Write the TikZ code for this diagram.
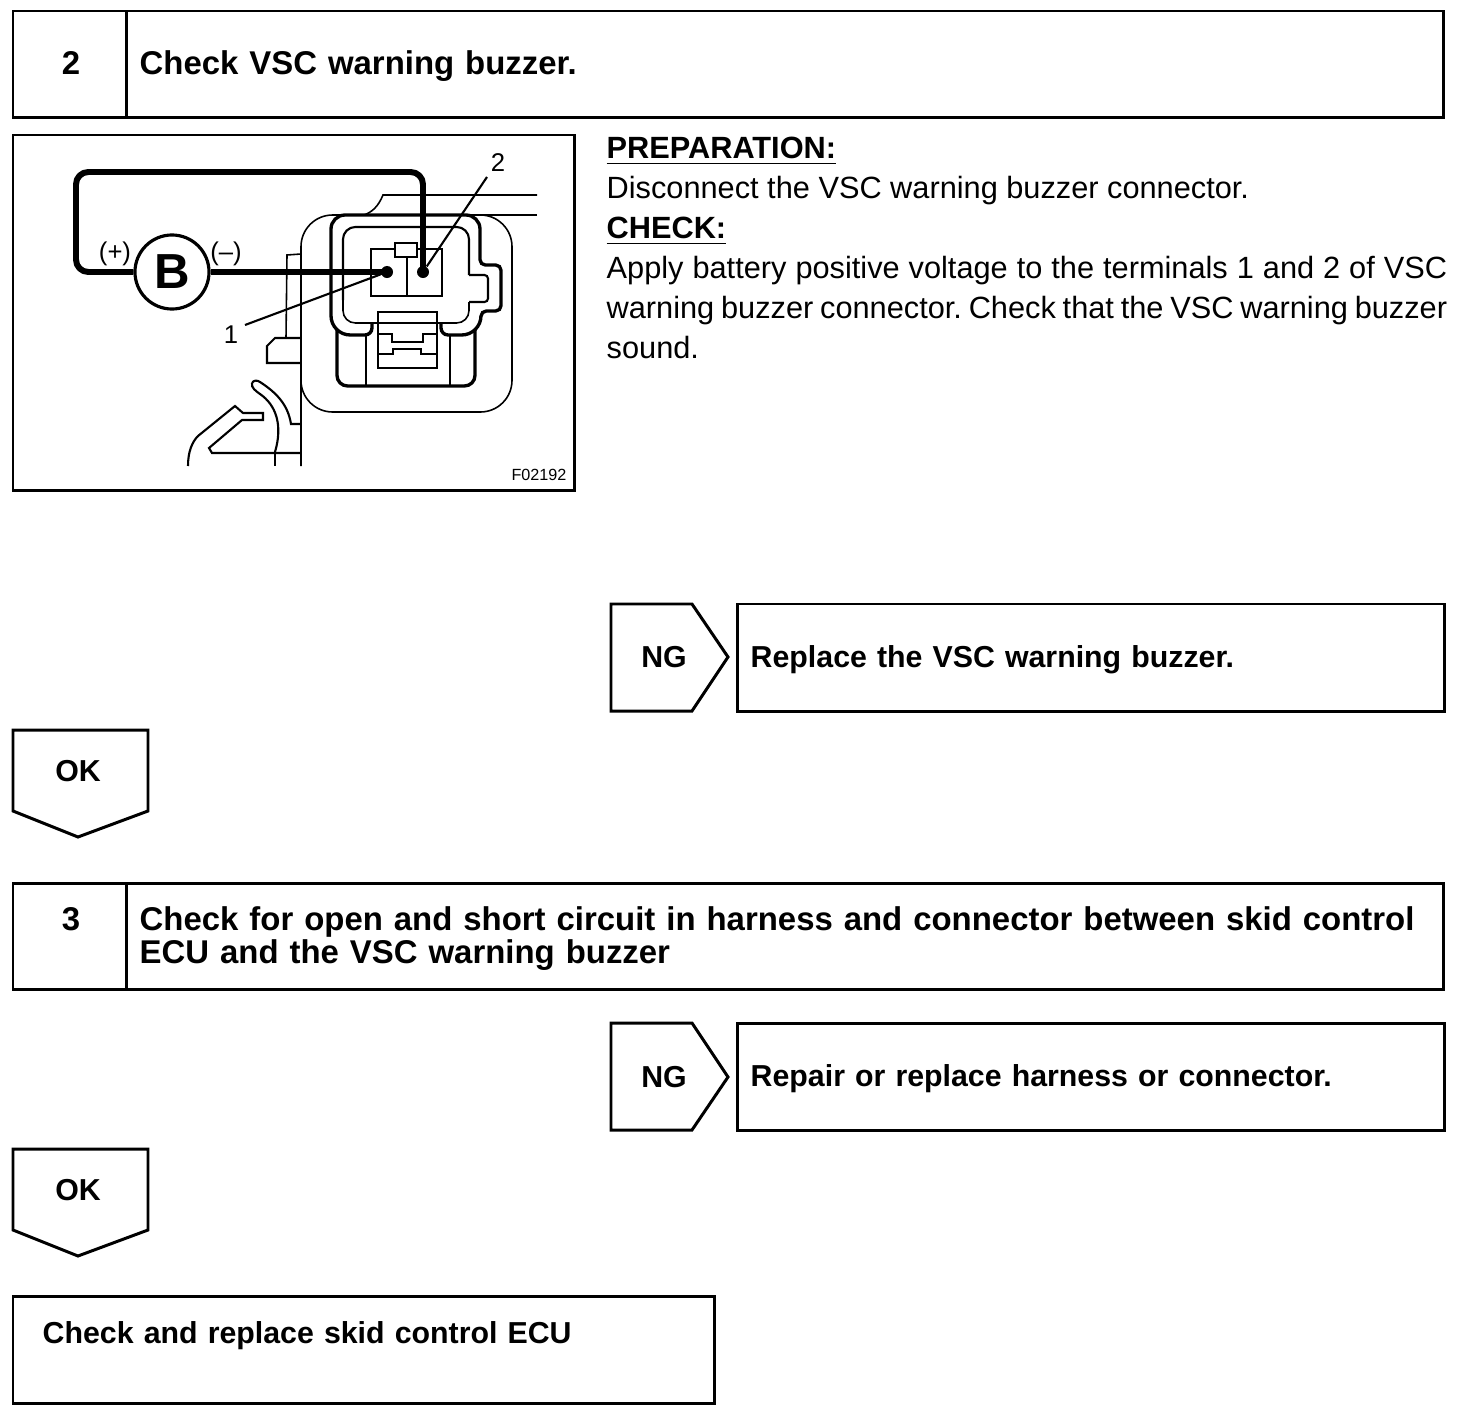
\documentclass[tikz,border=0pt]{standalone}
\usepackage{fontspec}
\setmainfont{Liberation Sans}
\usepackage{xcolor}
\newcommand{\headfont}{\fontsize{9.36}{9.4}\selectfont\bfseries}
\newcommand{\replyfont}{\fontsize{8.62}{9.4}\selectfont\bfseries}
\newcommand{\bodyfont}{\fontsize{8.74}{11.38}\selectfont}

\begin{document}
\begin{tikzpicture}[
    x=0.01cm, y=-0.01cm,
    frame/.style={draw=black, line width=0.85pt, rectangle, outer sep=0pt, anchor=north west},
    numtext/.style={font=\headfont, inner sep=0pt},
    headtext/.style={font=\headfont, inner sep=0pt, anchor=west, text width=12.9cm, align=left},
    replytext/.style={font=\replyfont, inner sep=0pt, anchor=west, text width=6.6cm, align=left},
    tag/.style={draw=black, line width=0.85pt, line join=miter},
    taglabel/.style={font=\replyfont, inner sep=0pt},
    wire/.style={draw=black, line width=1.7pt, line join=round},
    thickline/.style={draw=black, line width=0.95pt},
    termline/.style={draw=black, line width=0.8pt},
    midline/.style={draw=black, line width=0.6pt},
    thinline/.style={draw=black, line width=0.45pt},
    pindot/.style={circle, fill=black, inner sep=0pt, minimum size=0.12cm},
    callout/.style={font=\fontsize{7.3}{7.3}\selectfont, inner sep=0pt}
]
\useasboundingbox (0,0) rectangle (1472,1418);

% =====================================================================
% STEP 2
% =====================================================================
\node[frame, minimum width=1.13cm, minimum height=1.06cm] (NUMA) at (13,11) {};
\node[frame, minimum width=13.17cm, minimum height=1.06cm] (TITLEA) at (126,11) {};
\node[numtext] (NUMATEXT) at (71,63) {2};
\node[headtext] (TITLEATEXT) at (139,66) {Check VSC warning buzzer.};

\node[frame, minimum width=5.61cm, minimum height=3.55cm] (PIC) at (13,135) {};

\node[anchor=north west, inner sep=0pt, text width=8.4cm, align=justify, font=\bodyfont\frenchspacing] (NOTE) at (606,136) {%
\textbf{\underline{PREPARATION:}}\\
Disconnect the VSC warning buzzer connector.\\
\textbf{\underline{CHECK:}}\\
Apply battery positive voltage to the terminals 1 and 2 of VSC warning buzzer connector. Check that the VSC warning buzzer sound.};

% =====================================================================
% CONNECTOR DRAWING
% =====================================================================
\node[draw=black, line width=0.9pt, circle, inner sep=0pt, minimum size=0.74cm, font=\fontsize{14}{14}\selectfont] (BATT) at (172,272) {\textbf{B}};
\node[font=\fontsize{7.3}{7.3}\selectfont, inner sep=0pt] (PLUS) at (115,254) {(+)};
\node[font=\fontsize{7.3}{7.3}\selectfont, inner sep=0pt] (MINUS) at (226,254) {(--)};
\node[pindot] (PINA) at (387,272) {};
\node[pindot] (PINB) at (423,272) {};
\node[callout] (LA) at (231,335) {1};
\node[callout] (LB) at (498,163) {2};
\node[inner sep=0pt, font=\fontsize{4.6}{4.6}\selectfont] (CODE) at (539,475) {F02192};
\coordinate (LAEND) at (245,325);
\coordinate (LBEND) at (487,177);

% Housing
\draw[thinline, rounded corners=9pt] (301,466) -- (301,215) -- (512,215) -- (512,412) -- (301,412) -- (301,380);
\draw[midline] (537,215) -- (345,215);
\draw[thinline] (537,195) -- (383,195) .. controls (378,207) and (372,212) .. (364,215);

% Outer shell
\draw[thickline] (372,323) [rounded corners=2pt] -- (372,335) [rounded corners=5.5pt] -- (331,335) [rounded corners=4pt] -- (331,215) -- (480,215) [rounded corners=1.5pt] -- (480,265) -- (501,265) -- (501,311) -- (481,311) [rounded corners=5.5pt] -- (481,335) [rounded corners=2pt] -- (441,335) -- (441,323);
\draw[midline, rounded corners=3.5pt] (343,300) -- (343,227) -- (469,227) -- (469,275);
\draw[midline, rounded corners=1pt] (469,275) -- (488,275) -- (488,302) -- (469,302);
\draw[thinline, rounded corners=3.5pt] (469,302) -- (469,323) -- (343,323) -- (343,300);
\draw[thickline, rounded corners=3pt] (337,330) -- (337,386) -- (475,386) -- (475,330);
\draw[thinline] (366,335) -- (366,386) (450,335) -- (450,386);

% Latch
\draw[midline] (378,312) rectangle (437,368);
\draw[midline] (378,334) -- (392,334) -- (392,342) -- (423,342) -- (423,334) -- (437,334);
\draw[thinline] (378,354) -- (393,354) -- (393,349) -- (421,349) -- (421,354) -- (437,354);

% Terminals
\draw[termline] (371,249) rectangle (442,296);
\draw[termline] (407,256) -- (407,296);
\draw[midline, fill=white] (395,243) rectangle (417,257);

% Bracket and hook
\draw[thinline] (301,254) -- (287,255) -- (286,338);
\draw[midline] (301,338) -- (275,338) -- (267,346) -- (267,363) -- (301,363);
\draw[midline] (252,383) .. controls (254,380) and (257,380) .. (260,382) .. controls (277,393) and (288,405) .. (291,424) -- (301,424);
\draw[midline] (252,383) .. controls (251,388) and (256,391) .. (260,394) .. controls (276,405) and (283,425) .. (275,452);
\draw[thinline] (275,452) -- (275,466);
\draw[midline] (188,466) .. controls (188,452) and (192,442) .. (198,436) -- (235,406) -- (243,413) -- (263,413) -- (263,420) -- (242,420) -- (209,448) -- (212,453) -- (301,453);

% Wires and leaders
\draw[wire, rounded corners=3.5pt] (BATT.west) -- (76,272) -- (76,172) -- (423,172) -- (PINB.center);
\draw[wire] (BATT.east) -- (PINA.center);
\draw[midline] (LAEND) -- (PINA);
\draw[midline] (LBEND) -- (PINB);

% =====================================================================
% RESULT OF STEP 2
% =====================================================================
\draw[tag] (611,604) -- (692,604) -- (728,657) -- (692,711) -- (611,711) -- cycle;
\node[taglabel] (NGA) at (664,657) {NG};
\node[frame, minimum width=7.07cm, minimum height=1.07cm] (FIXA) at (737,604) {};
\node[replytext] (FIXATEXT) at (750,660) {Replace the VSC warning buzzer.};

\draw[tag] (13,730) -- (148,730) -- (148,811) -- (78,837) -- (13,811) -- cycle;
\node[taglabel] (OKA) at (78,771) {OK};

% =====================================================================
% STEP 3
% =====================================================================
\node[frame, minimum width=1.13cm, minimum height=1.06cm] (NUMB) at (13,883) {};
\node[frame, minimum width=13.17cm, minimum height=1.06cm] (TITLEB) at (126,883) {};
\node[numtext] (NUMBTEXT) at (71,919) {3};
\node[headtext] (TITLEBTEXT) at (139,939) {Check for open and short circuit in harness and connector between skid control ECU and the VSC warning buzzer};

\draw[tag] (611,1023) -- (692,1023) -- (728,1077) -- (692,1130) -- (611,1130) -- cycle;
\node[taglabel] (NGB) at (664,1077) {NG};
\node[frame, minimum width=7.07cm, minimum height=1.07cm] (FIXB) at (737,1023) {};
\node[replytext] (FIXBTEXT) at (750,1079) {Repair or replace harness or connector.};

\draw[tag] (13,1149) -- (148,1149) -- (148,1230) -- (78,1256) -- (13,1230) -- cycle;
\node[taglabel] (OKB) at (78,1190) {OK};

% =====================================================================
% LAST STEP
% =====================================================================
\node[frame, minimum width=7.01cm, minimum height=1.07cm] (LAST) at (13,1296) {};
\node[replytext] (LASTTEXT) at (42,1336) {Check and replace skid control ECU};

\end{tikzpicture}
\end{document}
